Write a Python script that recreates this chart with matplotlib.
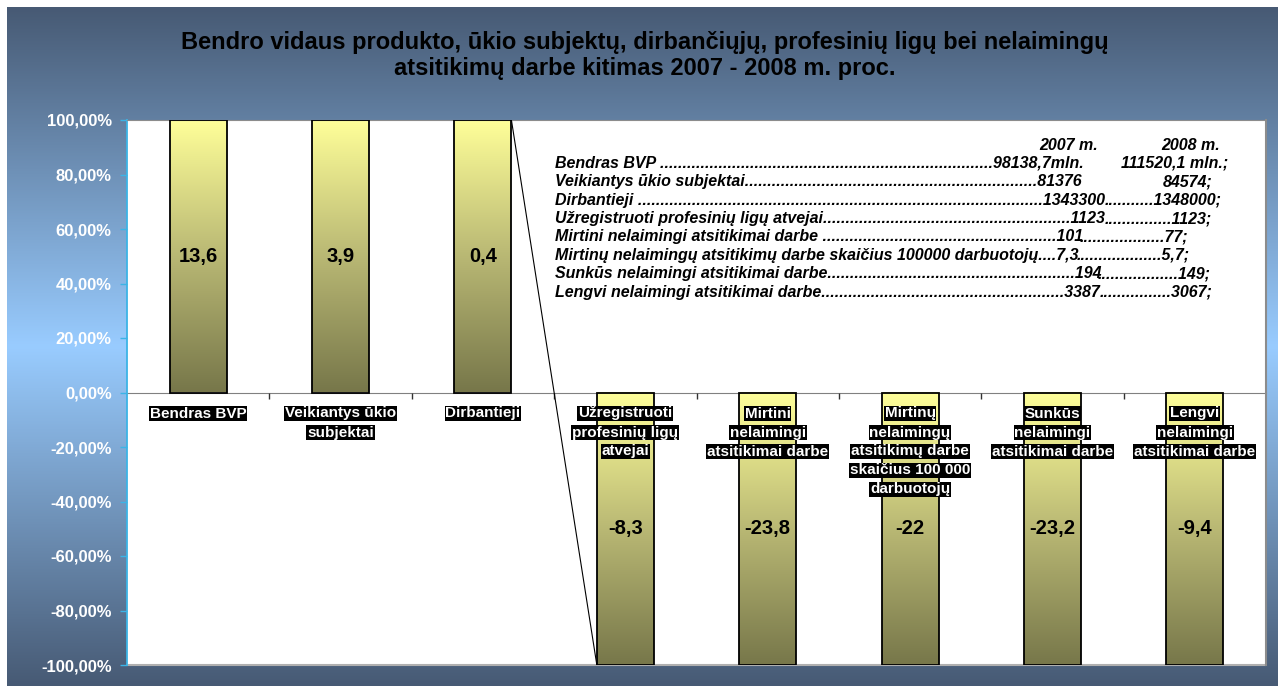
import numpy as np
import matplotlib
matplotlib.use("Agg")
import matplotlib.pyplot as plt
from matplotlib.colors import LinearSegmentedColormap
from matplotlib.patches import Rectangle

W, H = 1285, 686

title = ("Bendro vidaus produkto, ūkio subjektų, dirbančiųjų, profesinių ligų bei nelaimingų\n"
         "atsitikimų darbe kitimas 2007 - 2008 m. proc.")

categories = ["Bendras BVP",
              "Veikiantys ūkio\nsubjektai",
              "Dirbantieji",
              "Užregistruoti\nprofesinių ligų\natvejai",
              "Mirtini\nnelaimingi\natsitikimai darbe",
              "Mirtinų\nnelaimingų\natsitikimų darbe\nskaičius 100 000\ndarbuotojų",
              "Sunkūs\nnelaimingi\natsitikimai darbe",
              "Lengvi\nnelaimingi\natsitikimai darbe"]
# change 2007 -> 2008, percent
changes = [13.6, 3.9, 0.4, -8.3, -23.8, -22, -23.2, -9.4]

# the original axis tops out well below every bar, so all bars run off the scale
ytick_pos = [-0.2, -0.16, -0.12, -0.08, -0.04, 0.0, 0.04, 0.08, 0.12, 0.16, 0.2]
ytick_labels = ["-100,00%", "-80,00%", "-60,00%", "-40,00%", "-20,00%", "0,00%",
                "20,00%", "40,00%", "60,00%", "80,00%", "100,00%"]

table_head = ["2007 m.", "2008 m."]
table_labels = ["Bendras BVP ",
                "Veikiantys ūkio subjektai",
                "Dirbantieji ",
                "Užregistruoti profesinių ligų atvejai",
                "Mirtini nelaimingi atsitikimai darbe ",
                "Mirtinų nelaimingų atsitikimų darbe skaičius 100000 darbuotojų",
                "Sunkūs nelaimingi atsitikimai darbe",
                "Lengvi nelaimingi atsitikimai darbe"]
table_2007 = ["98138,7mln.", "81376", "1343300", "1123", "101", "7,3", "194", "3387"]
table_2008 = ["111520,1 mln.;", "84574;", "1348000;", "1123;", "77;", "5,7;", "149;", "3067;"]

plt.rcParams['font.family'] = ['Liberation Sans', 'DejaVu Sans']

def fx(px):
    return px / W

def fy(py):
    return 1 - py / H

fig = plt.figure(figsize=(W / 100, H / 100), dpi=100, facecolor='white')

# background gradient (dark - light blue - dark)
bg = fig.add_axes([fx(7), 0, fx(1278 - 7), (H - 7) / H])
bg_cmap = LinearSegmentedColormap.from_list('bg', ['#475a74', '#99ccff', '#475a74'])
bg.imshow(np.linspace(0, 1, 256).reshape(-1, 1), cmap=bg_cmap, aspect='auto',
          extent=[0, 1, 0, 1])
bg.set_axis_off()

# plot area
ax = fig.add_axes([fx(127), fy(665), fx(1266 - 127), (665 - 120) / H])
ax.set_facecolor('white')
ymin, ymax = ytick_pos[0], ytick_pos[-1]
x = np.arange(len(changes))

shown = np.clip(changes, ymin, ymax)
bar_w = 0.4
bar_cmap = LinearSegmentedColormap.from_list('bar', ['#77774a', '#b9b874', '#ffff99'])
grad = np.linspace(0, 1, 256).reshape(-1, 1)
bars = ax.bar(x, shown, width=bar_w, facecolor='none', edgecolor='black',
              linewidth=1.3, zorder=3)
for b in bars:
    lo, hi = sorted([b.get_y(), b.get_y() + b.get_height()])
    ax.imshow(grad, cmap=bar_cmap, origin='lower', aspect='auto',
              extent=[b.get_x(), b.get_x() + b.get_width(), lo, hi], zorder=2)
ax.set_xlim(-0.5, len(changes) - 0.5)
ax.set_ylim(ymin, ymax)

# series line between third and fourth bar
ax.plot([x[2] + bar_w / 2, x[3] - bar_w / 2], [shown[2], shown[3]],
        color='black', linewidth=0.8, zorder=4)

# value labels
for xi, v, s in zip(x, changes, shown):
    lab = ('%g' % v).replace('.', ',')
    ax.text(xi, s / 2, lab, ha='center', va='center', fontsize=14.5,
            fontweight='bold', color='black', zorder=5)

# category labels, one black box per line
for xi, cat in zip(x, categories):
    for i, line in enumerate(cat.split('\n')):
        ax.annotate(line, xy=(xi, 0), xytext=(0, -(14 + 19 * i) * 0.72),
                    textcoords='offset points', ha='center', va='top',
                    fontsize=11, fontweight='bold', color='white', zorder=6,
                    bbox=dict(boxstyle='square,pad=0.05', fc='black', ec='none'))

# axes styling
ax.set_yticks(ytick_pos)
ax.set_yticklabels(ytick_labels)
ax.tick_params(axis='y', colors='#3cb4e6', length=5, width=1, direction='out', pad=6)
for lbl in ax.get_yticklabels():
    lbl.set_color('white')
    lbl.set_fontweight('bold')
    lbl.set_fontsize(12)
ax.set_xticks(np.arange(0.5, len(changes) - 1, 1.0))
ax.set_xticklabels([])
ax.tick_params(axis='x', length=4, width=1, colors='#333333', direction='out')
ax.spines['bottom'].set_position(('data', 0))
ax.spines['bottom'].set_color('#808080')
ax.spines['bottom'].set_zorder(1)
ax.spines['left'].set_color('#3cb4e6')
ax.spines['left'].set_linewidth(1.3)
ax.spines['top'].set_color('#8c8c8c')
ax.spines['right'].set_color('#8c8c8c')
ax.spines['right'].set_linewidth(1.5)
ax.add_patch(Rectangle((0, 0), 1, 0, transform=ax.transAxes, fill=False,
                       edgecolor='#b0b0b0', linewidth=1.5, clip_on=False, zorder=1))

# title
for i, line in enumerate(title.split('\n')):
    fig.text(fx(645), fy(43 + 26 * i), line, ha='center', va='center',
             fontsize=17, fontweight='bold', color='black')

# info table
r = fig.canvas.get_renderer()
tkw = dict(fontsize=11.5, fontweight='bold', fontstyle='italic', color='black', va='center')

def text_w(s):
    t = fig.text(0, 0, s, **tkw)
    w = t.get_window_extent(r).width
    t.remove()
    return w

dot_w = text_w('..........') / 10
x0 = 555
end_07 = [1085, 1083, 1105, 1105, 1083, 1078, 1101, 1101]
end_08 = [1228, 1213, 1222, 1212, 1188, 1190, 1211, 1213]
fig.text(fx(1098), fy(145), table_head[0], ha='right', **tkw)
fig.text(fx(1220), fy(145), table_head[1], ha='right', **tkw)
for i, (lab, a, b) in enumerate(zip(table_labels, table_2007, table_2008)):
    yy = fy(163 + 18.5 * i)
    n = int(round((end_07[i] - x0 - text_w(lab) - text_w(a)) / dot_w))
    fig.text(fx(x0), yy, lab + '.' * max(n, 0) + a, ha='left', **tkw)
    if i < 2:
        fig.text(fx(end_08[i]), yy, b, ha='right', **tkw)
    else:
        m = int(np.ceil((end_08[i] - end_07[i] - text_w(b)) / dot_w))
        fig.text(fx(end_08[i]), yy, '.' * max(m, 0) + b, ha='right', **tkw)

fig.savefig('out.png', dpi=100, facecolor='white')
